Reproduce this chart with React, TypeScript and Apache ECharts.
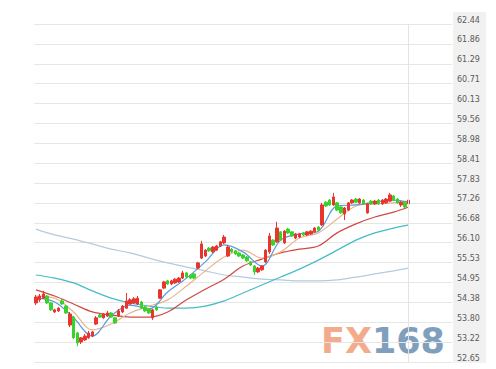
import React, { useEffect, useRef } from "react";
import * as echarts from "echarts";

// Right-hand price ticks (bottom to top)
const tickLabels = [
  "52.65", "53.22", "53.80", "54.38", "54.95", "55.53", "56.10", "56.68", "57.26",
  "57.83", "58.41", "58.98", "59.56", "60.13", "60.71", "61.29", "61.86", "62.44",
];

// 100 trading sessions (ids only, not displayed)
const categories = Array.from({ length: 100 }, (_, i) => `D${i + 1}`);

// [open, close, low, high]
const candles: number[][] = [
  [54.36, 54.53, 54.30, 54.59], [54.45, 54.56, 54.39, 54.62], [54.50, 54.62, 54.48, 54.71], [54.56, 54.36, 54.33, 54.59],
  [54.36, 54.16, 54.13, 54.39], [54.10, 54.16, 54.07, 54.19], [54.13, 54.21, 54.10, 54.24], [54.42, 54.33, 54.30, 54.48],
  [54.27, 54.07, 54.04, 54.30], [53.72, 54.04, 53.66, 54.10], [53.95, 53.35, 53.32, 53.98], [53.49, 53.20, 53.11, 53.52],
  [53.23, 53.35, 53.17, 53.37], [53.29, 53.40, 53.26, 53.46], [53.35, 53.49, 53.32, 53.55], [53.40, 53.52, 53.37, 53.55],
  [53.75, 53.93, 53.72, 53.98], [54.01, 53.95, 53.93, 54.04], [53.93, 54.04, 53.90, 54.07], [53.98, 54.07, 53.95, 54.13],
  [54.07, 53.95, 53.93, 54.10], [53.93, 53.78, 53.75, 53.95], [53.98, 54.13, 53.95, 54.19], [54.10, 54.27, 54.07, 54.30],
  [54.21, 54.42, 54.19, 54.65], [54.33, 54.45, 54.30, 54.50], [54.36, 54.48, 54.33, 54.53], [54.33, 54.50, 54.30, 54.56],
  [54.39, 54.21, 54.19, 54.42], [54.24, 54.13, 54.10, 54.27], [54.19, 54.07, 54.04, 54.21], [53.93, 54.16, 53.87, 54.19],
  [54.24, 54.16, 54.13, 54.27], [54.50, 54.74, 54.48, 54.76], [54.79, 54.97, 54.76, 55.00], [55.00, 54.91, 54.88, 55.03],
  [54.91, 55.00, 54.88, 55.03], [54.94, 55.05, 54.91, 55.08], [54.97, 55.08, 54.94, 55.11], [55.08, 55.23, 55.05, 55.29],
  [55.23, 55.11, 55.08, 55.26], [55.17, 55.08, 55.05, 55.20], [55.20, 55.08, 55.05, 55.23], [55.37, 55.52, 55.34, 55.55],
  [55.66, 56.07, 55.63, 56.16], [55.72, 55.89, 55.69, 55.92], [55.95, 55.87, 55.84, 55.98], [55.84, 55.98, 55.81, 56.01],
  [55.89, 56.01, 55.87, 56.04], [56.01, 56.13, 55.98, 56.16], [56.10, 56.27, 56.07, 56.33], [55.72, 55.98, 55.69, 56.04],
  [55.92, 55.84, 55.81, 55.95], [55.87, 55.78, 55.75, 55.89], [55.81, 55.72, 55.69, 55.84], [55.75, 55.66, 55.63, 55.78],
  [55.69, 55.58, 55.55, 55.72], [55.55, 55.46, 55.43, 55.58], [55.43, 55.26, 55.17, 55.46], [55.26, 55.37, 55.23, 55.40],
  [55.32, 55.43, 55.29, 55.46], [55.55, 55.89, 55.52, 55.92], [55.84, 56.30, 55.78, 56.39], [56.18, 56.04, 56.01, 56.21],
  [56.13, 56.53, 56.10, 56.71], [56.42, 56.18, 56.16, 56.44], [56.10, 56.44, 56.07, 56.47], [56.50, 56.39, 56.36, 56.53],
  [56.42, 56.30, 56.27, 56.44], [56.24, 56.36, 56.21, 56.39], [56.27, 56.36, 56.24, 56.39], [56.39, 56.33, 56.30, 56.42],
  [56.33, 56.42, 56.30, 56.44], [56.36, 56.44, 56.33, 56.47], [56.42, 56.53, 56.39, 56.56], [56.56, 56.47, 56.44, 56.59],
  [56.62, 57.20, 56.59, 57.26], [57.28, 57.17, 57.14, 57.31], [57.34, 57.20, 57.17, 57.37], [57.20, 57.43, 57.17, 57.55],
  [57.26, 57.05, 57.02, 57.28], [57.14, 56.97, 56.94, 57.17], [56.94, 57.11, 56.76, 57.14], [57.05, 57.26, 57.02, 57.28],
  [57.26, 57.34, 57.23, 57.37], [57.37, 57.28, 57.26, 57.40], [57.26, 57.37, 57.23, 57.40], [57.34, 57.23, 57.20, 57.37],
  [56.97, 57.23, 56.94, 57.26], [57.31, 57.23, 57.20, 57.34], [57.23, 57.31, 57.20, 57.34], [57.34, 57.23, 57.20, 57.37],
  [57.23, 57.34, 57.20, 57.37], [57.26, 57.37, 57.23, 57.40], [57.31, 57.49, 57.28, 57.55], [57.46, 57.34, 57.31, 57.49],
  [57.37, 57.26, 57.23, 57.40], [57.20, 57.28, 57.14, 57.31], [57.28, 57.14, 57.11, 57.31], [57.23, 57.34, 57.20, 57.37],
];

// Moving-average lines, read at these session indices
const maIdx = [0, 5, 10, 15, 20, 25, 30, 35, 40, 45, 50, 55, 60, 65, 70, 75, 80, 85, 90, 95, 99];
const ma5 = [54.50, 54.39, 53.93, 53.40, 53.98, 54.30, 54.19, 54.68, 55.08, 55.55, 56.04, 55.84, 55.43, 56.18, 56.36, 56.44, 57.17, 57.20, 57.28, 57.34, 57.28];
const ma10 = [54.56, 54.50, 54.10, 53.58, 53.75, 54.07, 54.27, 54.45, 54.85, 55.29, 55.69, 55.89, 55.66, 55.84, 56.24, 56.39, 56.79, 57.17, 57.23, 57.26, 57.31];
const ma20 = [54.74, 54.56, 54.33, 54.10, 54.01, 53.95, 53.95, 54.10, 54.45, 54.76, 55.05, 55.43, 55.63, 55.81, 55.92, 56.01, 56.39, 56.65, 56.85, 56.99, 57.14];
const ma60 = [55.17, 55.08, 54.94, 54.71, 54.50, 54.36, 54.27, 54.21, 54.21, 54.27, 54.42, 54.65, 54.88, 55.11, 55.34, 55.60, 55.89, 56.18, 56.39, 56.53, 56.62];
const ma120 = [56.50, 56.33, 56.21, 56.07, 55.92, 55.81, 55.66, 55.52, 55.40, 55.29, 55.17, 55.11, 55.05, 55.03, 55.00, 55.00, 55.03, 55.11, 55.20, 55.29, 55.37];

const maLine = (name: string, vals: number[], color: string) => ({
  name,
  type: "line",
  yAxisIndex: 0,
  data: maIdx.map((ix, k) => [ix, vals[k]]),
  smooth: 0.35,
  symbol: "none",
  silent: true,
  lineStyle: { color, width: 1.2 },
  z: 3,
});

export default function App() {
  const ref = useRef<HTMLDivElement>(null);
  useEffect(() => {
    if (!ref.current) return;
    const chart = echarts.init(ref.current, undefined, { renderer: "svg" });
    chart.setOption({
      animation: false,
      backgroundColor: "#ffffff",
      grid: { left: 34, right: 44, top: 24, bottom: 7 },
      graphic: [
        {
          type: "rect",
          left: 453,
          top: 12,
          shape: { width: 33, height: 351 },
          style: { fill: "#f1f1f1" },
          z: -10,
          silent: true,
        },
        {
          type: "text",
          left: 321,
          top: 323,
          z: 0,
          silent: true,
          style: {
            text: "{a|FX}{b|168}",
            rich: {
              a: { fill: "#f3ab8c", fontSize: 35, fontWeight: "bold", fontFamily: "DejaVu Sans" },
              b: { fill: "#7f9fbd", fontSize: 35, fontWeight: "bold", fontFamily: "DejaVu Sans" },
            },
          },
        },
      ],
      xAxis: {
        type: "category",
        data: categories,
        max: 110,
        boundaryGap: true,
        show: false,
      },
      yAxis: [
        { type: "value", min: 52.65, max: 62.44, show: false, splitLine: { show: false } },
        {
          type: "category",
          data: tickLabels,
          position: "right",
          boundaryGap: false,
          axisLine: { show: false },
          axisTick: { show: false },
          splitLine: { show: true, interval: 0, lineStyle: { color: "#e6e6e6", width: 1 } },
          axisLabel: {
            interval: 0,
            margin: 5,
            verticalAlign: "bottom",
            color: "#5a5a5a",
            fontSize: 8,
            fontFamily: "DejaVu Sans",
          },
        },
      ],
      series: [
        maLine("MA120", ma120, "#b3cbe0"),
        maLine("MA60", ma60, "#45bcc6"),
        maLine("MA20", ma20, "#cc4a42"),
        maLine("MA10", ma10, "#e9b48f"),
        maLine("MA5", ma5, "#5a9bdc"),
        {
          name: "K",
          type: "candlestick",
          yAxisIndex: 0,
          data: candles,
          barWidth: 3,
          z: 4,
          itemStyle: {
            color: "#e8352e",
            color0: "#39d12c",
            borderColor: "#e8352e",
            borderColor0: "#39d12c",
            borderWidth: 1,
          },
          markLine: {
            silent: true,
            symbol: ["none", "none"],
            label: { show: false },
            lineStyle: { color: "#e4e4e4", type: "solid", width: 1 },
            data: [{ xAxis: categories[99] }],
          },
        },
      ],
    });
    return () => chart.dispose();
  }, []);
  return (
    <div
      ref={ref}
      style={{ position: "fixed", left: 0, top: 0, width: 496, height: 369 }}
    />
  );
}
